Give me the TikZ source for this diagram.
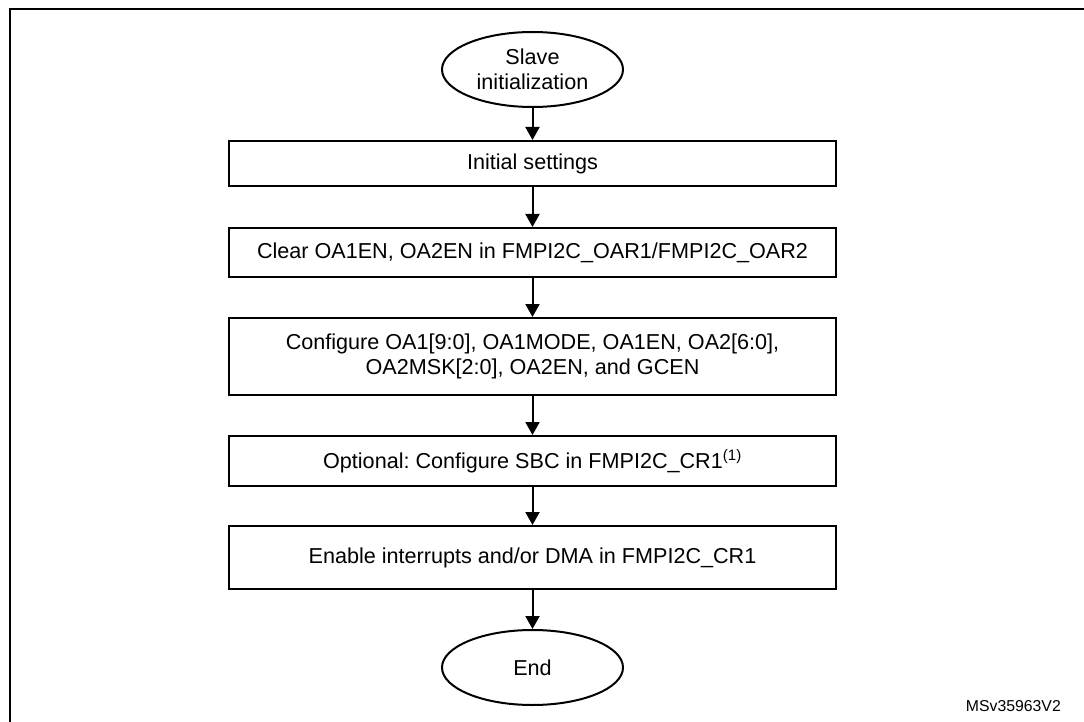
\documentclass[tikz,border=0pt]{standalone}
\usepackage{fontspec}
\setmainfont{Liberation Sans}
\usetikzlibrary{shapes.geometric,arrows.meta}
\frenchspacing
\tikzset{
  stepbox/.style={draw, line width=2pt, rectangle, minimum width=607pt, inner sep=0pt, align=center, font=\fontsize{21.6}{25.5}\selectfont},
  term/.style={draw, line width=2pt, ellipse, minimum width=181pt, minimum height=75pt, inner sep=0pt, align=center, font=\fontsize{21.6}{25}\selectfont},
  arr/.style={line width=2pt, -{Triangle[length=13pt,width=14pt]}},
  frame/.style={line width=2.4pt}
}
\begin{document}
\begin{tikzpicture}[x=1pt,y=-1pt]
\useasboundingbox (0,0) rectangle (1084,722);
\draw[frame] (10,722) -- (10,9) -- (1084,9);
\node[term] (start) at (532.5,69.5) {Slave\\initialization};
\node[stepbox, minimum height=45pt] (b1) at (532.5,163.5) {Initial settings};
\node[stepbox, minimum height=49pt] (b2) at (532.5,252.5) {Clear OA1EN, OA2EN in FMPI2C\_OAR1/FMPI2C\_OAR2};
\node[stepbox, minimum height=77pt] (b3) at (532.5,356.5) {Configure OA1[9:0], OA1MODE, OA1EN, OA2[6:0],\\OA2MSK[2:0], OA2EN, and GCEN};
\node[stepbox, minimum height=50pt] (b4) at (532.5,461) {Optional: Configure SBC in FMPI2C\_CR1\textsuperscript{(1)}};
\node[stepbox, minimum height=63pt] (b5) at (532.5,557.5) {Enable interrupts and/or DMA in FMPI2C\_CR1};
\node[term] (end) at (532.5,667.5) {End};
\draw[arr] (start) -- (b1);
\draw[arr] (b1) -- (b2);
\draw[arr] (b2) -- (b3);
\draw[arr] (b3) -- (b4);
\draw[arr] (b4) -- (b5);
\draw[arr] (b5) -- (end);
\node[anchor=base east, inner sep=0pt, font=\fontsize{15.8}{18}\selectfont] (id) at (1061,711) {MSv35963V2};
\end{tikzpicture}
\end{document}
